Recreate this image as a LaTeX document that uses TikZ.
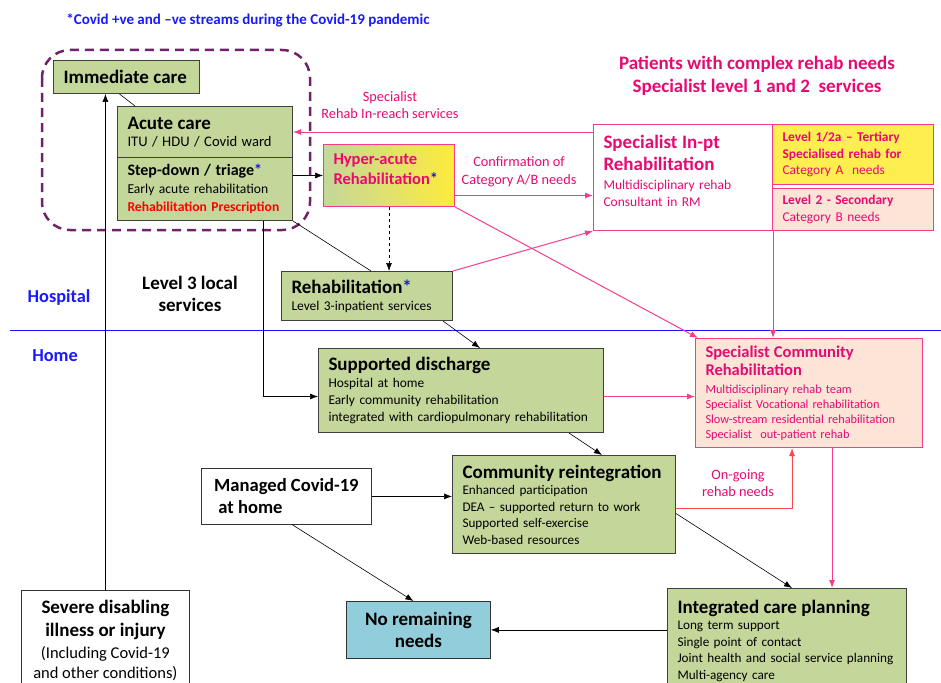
\documentclass[tikz,border=0pt]{standalone}
\usepackage{fontspec}
\setmainfont{Carlito}
\usetikzlibrary{positioning, arrows.meta}

\definecolor{boxgreen}{RGB}{196,215,155}
\definecolor{boxline}{RGB}{64,64,64}
\definecolor{pinkline}{RGB}{245,60,140}
\definecolor{pinktext}{RGB}{230,10,115}
\definecolor{peach}{RGB}{252,228,214}
\definecolor{levelyellow}{RGB}{255,238,80}
\definecolor{hyperyellow}{RGB}{255,235,60}
\definecolor{noneedsblue}{RGB}{146,205,220}
\definecolor{bannerblue}{RGB}{25,25,255}
\definecolor{starblue}{RGB}{20,20,240}
\definecolor{covidpurple}{RGB}{112,35,105}
\definecolor{ongoingred}{RGB}{255,70,80}

\newcommand{\boxhead}{\fontsize{19}{22}\selectfont\bfseries}
\newcommand{\boxtext}{\fontsize{13.4}{17}\selectfont}
\newcommand{\bluestar}{\textcolor{starblue}{*}}

\begin{document}
\begin{tikzpicture}[x=1pt, y=-1pt, >={Latex[length=8pt,width=6pt]}]

  % Setup the styles for the boxes and links
  \tikzset{
    greenbox/.style={draw=boxline, fill=boxgreen, line width=1pt, anchor=north west,
                     align=left, inner xsep=10pt, inner ysep=0pt, font=\boxtext},
    pinkbox/.style={draw=pinkline, line width=1pt, anchor=north west,
                    align=left, inner xsep=10pt, inner ysep=0pt, font=\boxtext, text=pinktext},
    whitebox/.style={draw=black!80, line width=0.8pt, anchor=north west,
                     inner ysep=0pt, font=\fontsize{19}{22}\selectfont\bfseries},
    link/.style={->, line width=0.6pt},
    pinklink/.style={->, draw=pinkline, line width=1pt},
    pinklabel/.style={text=pinktext, font=\fontsize{14.3}{17.5}\selectfont, align=center},
    banner/.style={text=bannerblue, font=\fontsize{18.3}{21}\selectfont\bfseries}
  }

  \useasboundingbox (0,0) rectangle (941,682);
  \clip (0,0) rectangle (941,682);

  % Hospital / home divide and the covid streams
  \draw[bannerblue, line width=0.8pt] (10,330) -- (941,330);
  \draw[covidpurple, line width=2.5pt, dash pattern=on 9pt off 6pt, rounded corners=28pt]
    (42,50) rectangle (310,230);

  % Draw the boxes
  \node[greenbox, text width=126pt, minimum height=33pt] (immediate) at (53,60) {\boxhead Immediate care};
  \node[greenbox, text width=155pt, minimum height=51pt] (acute) at (117,106)
    {{\boxhead Acute care}\\ {\fontsize{14.6}{17}\selectfont ITU / HDU / Covid ward}};
  \node[greenbox, text width=155pt, minimum height=63pt, font=\fontsize{13.6}{18}\selectfont] (stepdown) at (117,157)
    {{\fontsize{16}{18}\selectfont\bfseries Step-down / triage\bluestar}\\
     Early acute rehabilitation\\
     {\bfseries\color{red}Rehabilitation Prescription}};
  \node[pinkbox, text width=111pt, minimum height=62pt, left color=boxgreen, right color=hyperyellow,
        font=\fontsize{16.5}{20}\selectfont\bfseries] (hyper) at (323,144)
    {Hyper-acute\\ Rehabilitation\bluestar\rule[-12pt]{0pt}{0pt}};
  \node[pinkbox, fill=white, text width=159pt, minimum height=106pt, font=\fontsize{13.5}{17}\selectfont] (inpt) at (593,124)
    {{\fontsize{19}{22}\selectfont\bfseries Specialist In-pt}\\[5pt]
     {\fontsize{19}{22}\selectfont\bfseries Rehabilitation}\\[2pt]
     Multidisciplinary rehab\\ Consultant in RM\rule[-14pt]{0pt}{0pt}};
  \node[pinkbox, fill=levelyellow, text width=141pt, minimum height=60pt, font=\fontsize{13.4}{16.5}\selectfont] (tertiary) at (772,124)
    {{\bfseries Level 1/2a -- Tertiary}\\ {\bfseries Specialised rehab for}\\ Category A\ \ needs};
  \node[pinkbox, fill=peach, text width=141pt, minimum height=42pt, font=\fontsize{13.4}{16.5}\selectfont] (secondary) at (772,188)
    {{\bfseries Level 2 - Secondary}\\ Category B needs};
  \node[greenbox, text width=151pt, minimum height=49pt] (rehab) at (281,271)
    {{\boxhead Rehabilitation\bluestar}\\ Level 3-inpatient services};
  \node[greenbox, text width=265pt, minimum height=84pt] (supported) at (318,348)
    {{\boxhead Supported discharge}\\ Hospital at home\\ Early community rehabilitation\\
     integrated with cardiopulmonary rehabilitation};
  \node[pinkbox, fill=peach, text width=207pt, minimum height=109pt, font=\fontsize{12.3}{15}\selectfont] (spcomm) at (695,338)
    {{\fontsize{16.5}{18}\selectfont\bfseries Specialist Community}\\[3pt]
     {\fontsize{16.5}{18}\selectfont\bfseries Rehabilitation}\\[3pt]
     Multidisciplinary rehab team\\ Specialist Vocational rehabilitation\\
     Slow-stream residential rehabilitation\\ Specialist\ \ out-patient rehab};
  \node[greenbox, text width=203pt, minimum height=98pt, font=\fontsize{13.2}{16.5}\selectfont] (comreint) at (452,455)
    {{\boxhead Community reintegration}\\ Enhanced participation\\ DEA -- supported return to work\\
     Supported self-exercise\\ Web-based resources};
  \node[whitebox, minimum width=170pt, minimum height=56pt, align=left, font=\fontsize{18.6}{22}\selectfont\bfseries] (managed) at (201,468)
    {Managed Covid-19\\ \ at home};
  \node[whitebox, fill=noneedsblue, minimum width=144pt, minimum height=57pt, align=center] (noneeds) at (346,601)
    {No remaining\\ needs};
  \node[greenbox, text width=219pt, minimum height=104pt, font=\fontsize{13.2}{16.5}\selectfont] (integrated) at (667,588)
    {{\boxhead Integrated care planning}\\ Long term support\\ Single point of contact\\
     Joint health and social service planning\\ Multi-agency care};
  \node[whitebox, minimum width=168pt, minimum height=100pt, align=center] (severe) at (21,590)
    {Severe disabling\\[1pt] illness or injury\\
     {\fontsize{16.5}{19}\mdseries\selectfont (Including Covid-19}\\[-2pt]
     {\fontsize{16.5}{19}\mdseries\selectfont and other conditions)}};

  % Headings and labels
  \node[text=bannerblue, font=\fontsize{15}{18}\selectfont\bfseries] (streams) at (248,20)
    {*Covid +ve and --ve streams during the Covid-19 pandemic};
  \node[text=pinktext, font=\fontsize{19}{23}\selectfont\bfseries, align=center] (complex) at (757,76)
    {Patients with complex rehab needs\\ Specialist level 1 and 2\ \ services};
  \node[pinklabel] (inreach) at (390,105) {Specialist\\ Rehab In-reach services};
  \node[pinklabel] (confirm) at (519,172) {Confirmation of\\ Category A/B needs};
  \node[pinklabel] (ongoing) at (738,483) {On-going\\ rehab needs};
  \node[banner] (hospital) at (59,298) {Hospital};
  \node[banner] (home) at (55,356) {Home};
  \node[font=\fontsize{19}{22}\selectfont\bfseries, align=center] (level3) at (190,294) {Level 3 local\\ services};

  % Connect the boxes with arrows
  \draw[link] (severe.north) -- (severe.north |- immediate.south);
  \draw[line width=0.6pt] ([xshift=-7pt]immediate.south) -- ([xshift=18pt]acute.north west);
  \draw[link] (stepdown.east |- hyper.west) -- (hyper.west);
  \draw[line width=0.6pt] (stepdown.south east) -- ([xshift=4pt]rehab.north);
  \draw[link, dashed] (hyper.south) -- (hyper.south |- rehab.north);
  \draw[link] ([xshift=-30pt]stepdown.south east) |- ([yshift=-6pt]supported.west);
  \draw[link] ([xshift=-10pt]rehab.south east) -- ([xshift=162pt]supported.north west);
  \draw[link] ([xshift=-35pt]supported.south east) -- ([xshift=150pt]comreint.north west);
  \draw[link] (managed.east) -- (managed.east -| comreint.west);
  \draw[link] ([xshift=6pt]managed.south) -- ([xshift=-5pt]noneeds.north);
  \draw[link] ([yshift=-9pt]comreint.east) -- ([xshift=125pt]integrated.north west);
  \draw[link] (integrated.west |- noneeds.east) -- (noneeds.east);

  \draw[pinklink] (inpt.west |- acute.east) -- (acute.east);
  \draw[pinklink] ([yshift=-20pt]hyper.east) -- ([yshift=-20pt]hyper.east -| inpt.west);
  \draw[pinklink] (hyper.south east) -- ([xshift=3pt]spcomm.north west);
  \draw[pinklink] (rehab.north east) -- (inpt.south west);
  \draw[pinklink] ([yshift=-6pt]supported.east) -- ([yshift=-6pt]supported.east -| spcomm.west);
  \draw[pinklink] (inpt.south east) -- (inpt.south east |- spcomm.north);
  \draw[pinklink, draw=ongoingred] ([yshift=-4pt]comreint.east) -| ([xshift=97pt]spcomm.south west);
  \draw[pinklink] ([xshift=137pt]spcomm.south west) -- ([xshift=137pt]spcomm.south west |- integrated.north);

\end{tikzpicture}
\end{document}
